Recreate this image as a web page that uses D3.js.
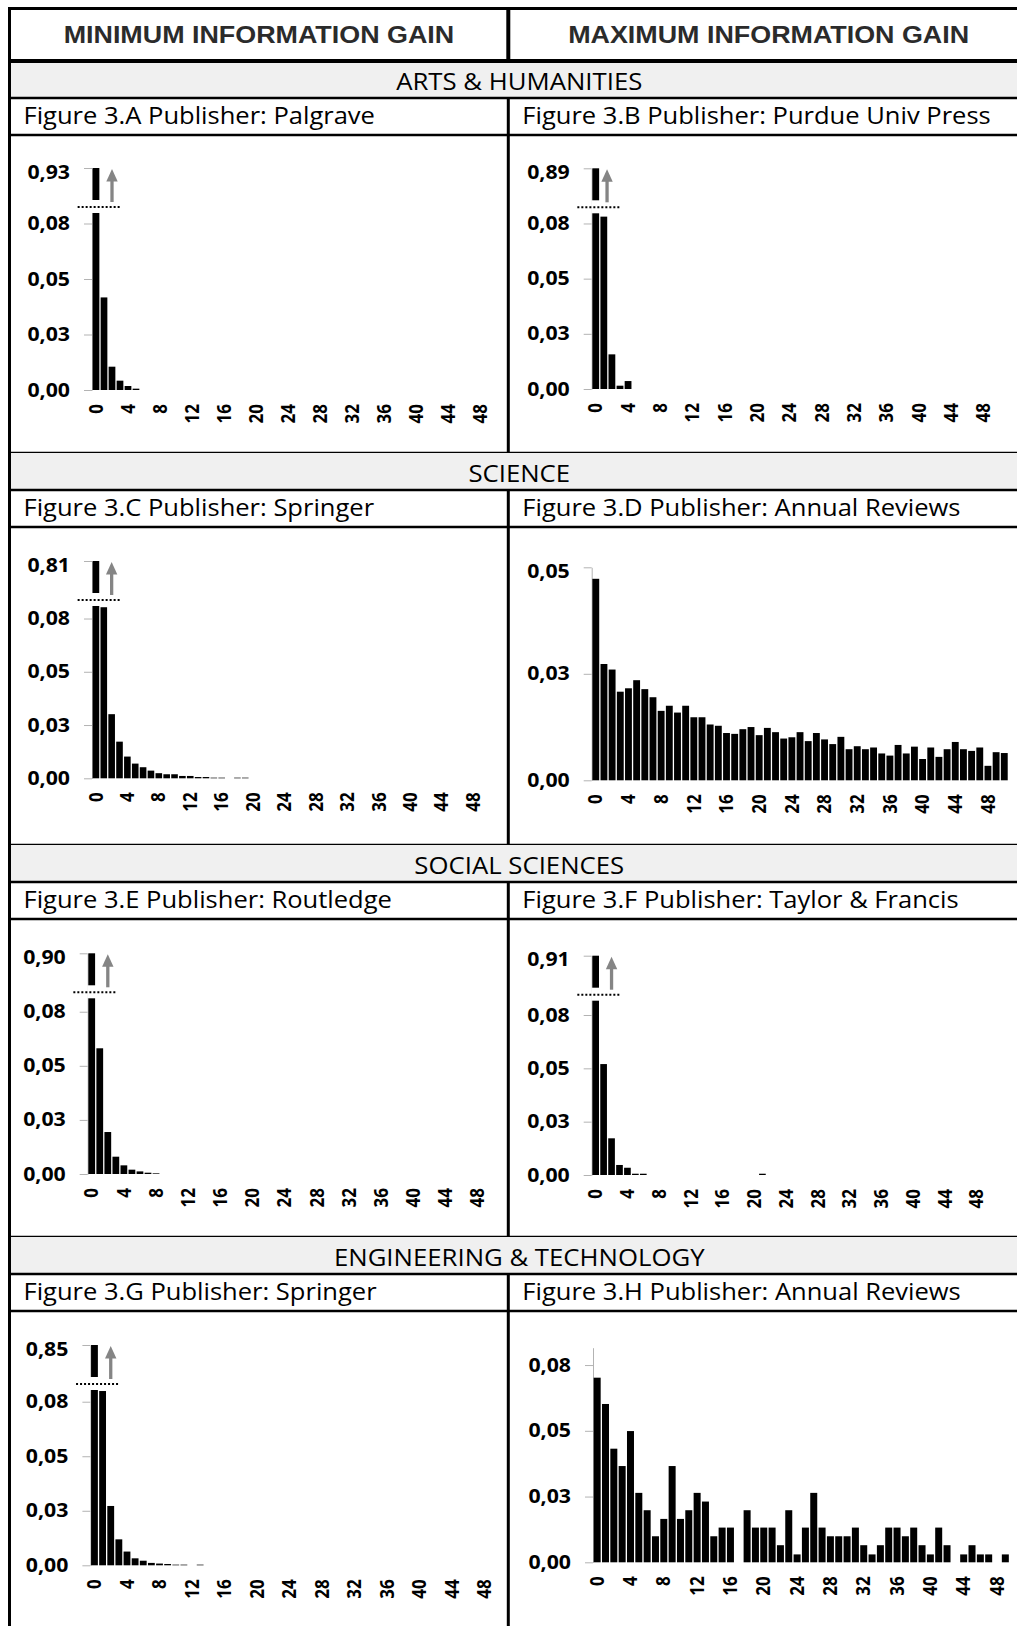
<!DOCTYPE html>
<html>
<head>
<meta charset="utf-8">
<script src="https://cdn.jsdelivr.net/npm/d3@7"></script>
<style>
body { margin: 0; background: #fff; }
svg { display: block; }
text { font-family: "Open Sans", sans-serif; }
</style>
</head>
<body>
<div id="chart"></div>
<script>
// column headers, section bands and figure titles
var headers = ["MINIMUM INFORMATION GAIN", "MAXIMUM INFORMATION GAIN"]
var sections = ["ARTS & HUMANITIES", "SCIENCE", "SOCIAL SCIENCES", "ENGINEERING & TECHNOLOGY"]
var titles = [
	"Figure 3.A Publisher: Palgrave", "Figure 3.B Publisher: Purdue Univ Press",
	"Figure 3.C Publisher: Springer", "Figure 3.D Publisher: Annual Reviews",
	"Figure 3.E Publisher: Routledge", "Figure 3.F Publisher: Taylor & Francis",
	"Figure 3.G Publisher: Springer", "Figure 3.H Publisher: Annual Reviews"
]

// axis ticks (labels as printed: 0.025 -> "0,03", 0.075 -> "0,08")
var xTickValues = [0, 4, 8, 12, 16, 20, 24, 28, 32, 36, 40, 44, 48]
var yTickValues = [0, 0.025, 0.05, 0.075]
var yTickLabels = ["0,00", "0,03", "0,05", "0,08"]

// label of the broken first bar (null = no axis break)
var topLabels = ["0,93", "0,89", "0,81", null, "0,90", "0,91", "0,85", null]

// series, one value per bin
var fig3A = [0.93, 0.0417, 0.0105, 0.0042, 0.0018, 0.0006, 0, 0, 0, 0,
	0, 0, 0, 0, 0, 0, 0, 0, 0, 0, 0, 0, 0, 0, 0, 0, 0, 0, 0, 0,
	0, 0, 0, 0, 0, 0, 0, 0, 0, 0, 0, 0, 0, 0, 0, 0, 0, 0, 0, 0, 0]
var fig3B = [0.89, 0.0781, 0.0157, 0.0015, 0.0036, 0, 0, 0, 0, 0,
	0, 0, 0, 0, 0, 0, 0, 0, 0, 0, 0, 0, 0, 0, 0, 0, 0, 0, 0, 0,
	0, 0, 0, 0, 0, 0, 0, 0, 0, 0, 0, 0, 0, 0, 0, 0, 0, 0, 0, 0, 0]
var fig3C = [0.81, 0.0803, 0.0301, 0.0172, 0.0102, 0.0069, 0.0052, 0.0036, 0.0024, 0.0019,
	0.0019, 0.0011, 0.0011, 0.0006, 0.0006, 0.0003, 0.0003, 0, 0.0003, 0.0003,
	0, 0, 0, 0, 0, 0, 0, 0, 0, 0, 0, 0, 0, 0, 0, 0, 0, 0, 0, 0,
	0, 0, 0, 0, 0, 0, 0, 0, 0, 0, 0]
var fig3D = [0.0473, 0.0273, 0.0260, 0.0208, 0.0216, 0.0235, 0.0214, 0.0195, 0.0163, 0.0175,
	0.0159, 0.0175, 0.0148, 0.0148, 0.0131, 0.0128, 0.0111, 0.0109, 0.0120, 0.0125,
	0.0106, 0.0123, 0.0113, 0.0098, 0.0101, 0.0113, 0.0092, 0.0111, 0.0096, 0.0085,
	0.0102, 0.0073, 0.0080, 0.0073, 0.0077, 0.0063, 0.0058, 0.0083, 0.0063, 0.0079,
	0.0050, 0.0077, 0.0055, 0.0073, 0.0090, 0.0073, 0.0069, 0.0077, 0.0034, 0.0066, 0.0064]
var fig3E = [0.90, 0.0581, 0.0194, 0.0080, 0.0040, 0.0020, 0.0012, 0.0006, 0.0003, 0,
	0, 0, 0, 0, 0, 0, 0, 0, 0, 0, 0, 0, 0, 0, 0, 0, 0, 0, 0, 0,
	0, 0, 0, 0, 0, 0, 0, 0, 0, 0, 0, 0, 0, 0, 0, 0, 0, 0, 0, 0, 0]
var fig3F = [0.91, 0.0520, 0.0172, 0.0047, 0.0034, 0.0006, 0.0006, 0, 0, 0,
	0, 0, 0, 0, 0, 0, 0, 0, 0, 0, 0, 0.0006, 0, 0, 0, 0, 0, 0, 0, 0,
	0, 0, 0, 0, 0, 0, 0, 0, 0, 0, 0, 0, 0, 0, 0, 0, 0, 0, 0, 0, 0]
var fig3G = [0.85, 0.0799, 0.0272, 0.0119, 0.0063, 0.0032, 0.0021, 0.0011, 0.0008, 0.0006,
	0.0003, 0.0003, 0, 0.0003, 0, 0, 0, 0, 0, 0, 0, 0, 0, 0, 0, 0, 0, 0, 0, 0,
	0, 0, 0, 0, 0, 0, 0, 0, 0, 0, 0, 0, 0, 0, 0, 0, 0, 0, 0, 0, 0]
var fig3H = [0.0702, 0.0602, 0.0432, 0.0366, 0.0499, 0.0264, 0.0198, 0.0099, 0.0165, 0.0366,
	0.0165, 0.0198, 0.0264, 0.0231, 0.0099, 0.0132, 0.0132, 0, 0.0198, 0.0132,
	0.0132, 0.0132, 0.0065, 0.0198, 0.0030, 0.0132, 0.0264, 0.0132, 0.0099, 0.0099,
	0.0099, 0.0132, 0.0065, 0.0030, 0.0065, 0.0132, 0.0132, 0.0099, 0.0132, 0.0065,
	0.0030, 0.0132, 0.0065, 0, 0.0030, 0.0065, 0.0030, 0.0030, 0, 0.0030]
var series = [fig3A, fig3B, fig3C, fig3D, fig3E, fig3F, fig3G, fig3H]

// axis maximum of every panel
var yMaxes = [0.1, 0.1, 0.102, 0.05, 0.102, 0.1028, 0.101, 0.0816]

// ---- layout ----
var W = 1017, H = 1626
var SX = 1.12 // the source is stretched sideways, text gets the same stretch
var tableL = 9.5, tableR = 1029, colDiv = 508.3
var sectionTop = [61, 453, 845, 1237]
var bandH = 37, titleH = 37

// plot box of each panel, relative to its chart cell
var plots = [
	{left: 92, step: 8.0, top: 33, base: 255, arrow: 2},
	{left: 591.7, step: 8.08, top: 33.3, base: 254, arrow: 1.4},
	{left: 92, step: 7.86, top: 34, base: 251.3, arrow: 2},
	{left: 591.7, step: 8.17, top: 40.3, base: 253.3},
	{left: 87.7, step: 8.04, top: 34.3, base: 255, arrow: 2},
	{left: 591.7, step: 7.94, top: 36.7, base: 256, arrow: 2},
	{left: 90.4, step: 8.13, top: 34, base: 254.3, arrow: 2},
	{left: 593, step: 8.33, top: 36.7, base: 251.3}
]

var svg = d3.select("#chart")
	.append("svg")
	.attr("width", W)
	.attr("height", H)

function stretched(sel, x, y) {
	return sel.attr("transform", "translate(" + x + "," + y + ") scale(" + SX + ",1)")
}

// ---- table ----
var table = svg.append("g")

sectionTop.forEach(function(t, s) {
	table.append("rect")
		.attr("x", tableL).attr("y", t)
		.attr("width", tableR - tableL).attr("height", bandH)
		.attr("fill", "#f0f0f0")

	stretched(table.append("text"), (tableL + tableR) / 2, t + 28.5)
		.attr("text-anchor", "middle")
		.style("font-size", "23px")
		.text(sections[s])

	var rows = [t + bandH, t + bandH + titleH, s < 3 ? sectionTop[s + 1] : null]
	rows.forEach(function(ry) {
		if (ry == null) return
		table.append("line")
			.attr("x1", tableL).attr("x2", tableR)
			.attr("y1", ry).attr("y2", ry)
			.attr("stroke", "#000").attr("stroke-width", 2.5)
	})

	// column divider through title and chart rows
	table.append("line")
		.attr("x1", colDiv).attr("x2", colDiv)
		.attr("y1", t + bandH).attr("y2", s < 3 ? sectionTop[s + 1] : H)
		.attr("stroke", "#000").attr("stroke-width", 3)

	;[0, 1].forEach(function(c) {
		stretched(table.append("text"), (c ? colDiv : tableL) + 14, t + bandH + 26)
			.style("font-size", "22.8px")
			.text(titles[s * 2 + c])
	})
})

// header row
table.append("line")
	.attr("x1", tableL - 1.5).attr("x2", tableR)
	.attr("y1", 8.5).attr("y2", 8.5)
	.attr("stroke", "#000").attr("stroke-width", 3)
table.append("line")
	.attr("x1", tableL).attr("x2", tableR)
	.attr("y1", 61).attr("y2", 61)
	.attr("stroke", "#000").attr("stroke-width", 4)
table.append("line")
	.attr("x1", colDiv).attr("x2", colDiv)
	.attr("y1", 8.5).attr("y2", 61)
	.attr("stroke", "#000").attr("stroke-width", 4)
table.append("line")
	.attr("x1", tableL).attr("x2", tableL)
	.attr("y1", 7).attr("y2", H)
	.attr("stroke", "#000").attr("stroke-width", 3)

headers.forEach(function(h, c) {
	stretched(table.append("text"), c ? (colDiv + tableR) / 2 : (tableL + colDiv) / 2, 43)
		.attr("text-anchor", "middle")
		.style("font-family", "'Liberation Sans', Arial, sans-serif")
		.style("font-weight", "bold")
		.style("font-size", "24px")
		.attr("fill", "#2b2b2b")
		.text(h)
})

// ---- panels ----
series.forEach(function(values, i) {
	var p = plots[i]
	var cellTop = sectionTop[Math.floor(i / 2)] + bandH + titleH
	var yTop = cellTop + p.top, yBase = cellTop + p.base
	var yMax = yMaxes[i]
	var topLabel = topLabels[i]

	var x = d3.scaleBand()
		.domain(d3.range(values.length))
		.range([p.left, p.left + p.step * values.length])
		.paddingInner(0.16)
		.paddingOuter(0.08)

	var y = d3.scaleLinear()
		.domain([0, yMax])
		.range([yBase, yTop])

	var g = svg.append("g")

	// y axis
	var ticks = yTickValues.filter(function(v) { return v <= yMax })
	if (topLabel) ticks = ticks.concat([yMax])
	var yAxis = d3.axisLeft(y)
		.tickValues(ticks)
		.tickSize(8)
		.tickSizeOuter(0)
		.tickPadding(14)
		.tickFormat(function(d, k) { return d === yMax && topLabel ? topLabel : yTickLabels[k] })

	var ya = g.append("g")
		.attr("transform", "translate(" + p.left + ",0)")
		.call(yAxis)
	ya.select(".domain").attr("stroke", "#b3b3b3")
	ya.selectAll(".tick line").attr("stroke", "#b3b3b3")
	ya.selectAll(".tick text").each(function(d) {
		var t = d3.select(this)
		var tx = +t.attr("x")
		t.attr("x", 0)
			.attr("transform", "translate(" + tx + "," + (d === yMax ? 4 : 0) + ") scale(" + SX + ",1)")
	})
	ya.selectAll("text")
		.attr("fill", "#000")
		.style("font-family", "'Open Sans', sans-serif")
		.style("font-size", "19px")
		.style("font-weight", "700")

	// bars
	g.selectAll("rect.bar")
		.data(values)
		.join("rect")
		.attr("class", "bar")
		.attr("x", function(d, k) { return x(k) })
		.attr("width", x.bandwidth())
		.attr("y", function(d) { return y(Math.min(d, yMax)) })
		.attr("height", function(d) { return yBase - y(Math.min(d, yMax)) })
		.attr("fill", "#000")

	// x axis labels
	var xa = g.append("g")
		.attr("transform", "translate(0," + yBase + ")")
		.call(d3.axisBottom(x).tickValues(xTickValues).tickSize(0))
	xa.select(".domain").remove()
	xa.selectAll(".tick text")
		.attr("y", 0)
		.attr("dy", "0.35em")
		.attr("text-anchor", "end")
		.attr("transform", "translate(0,14) scale(" + SX + ",1) rotate(-90)")
		.attr("fill", "#000")
		.style("font-family", "'Open Sans', sans-serif")
		.style("font-size", "17px")
		.style("font-weight", "700")

	// axis break on the first bar
	if (topLabel) {
		var top = y(yMax)
		g.append("rect")
			.attr("x", x(0) - 1).attr("y", top + 32)
			.attr("width", x.bandwidth() + 2).attr("height", 13)
			.attr("fill", "#fff")
		g.append("line")
			.attr("x1", x(0) - 15).attr("x2", x(0) + 29)
			.attr("y1", top + 39).attr("y2", top + 39)
			.attr("stroke", "#000").attr("stroke-width", 2)
			.attr("stroke-dasharray", "2,2")

		var ax = x(0) + x.bandwidth() / 2 + p.step * p.arrow
		g.append("line")
			.attr("x1", ax).attr("x2", ax)
			.attr("y1", top + 34).attr("y2", top + 10)
			.attr("stroke", "#858585").attr("stroke-width", 3.3)
		g.append("path")
			.attr("d", "M" + ax + "," + (top + 1) + "L" + (ax + 5.7) + "," + (top + 13.5) + "L" + (ax - 5.7) + "," + (top + 13.5) + "Z")
			.attr("fill", "#858585")
	}
})
</script>
</body>
</html>
